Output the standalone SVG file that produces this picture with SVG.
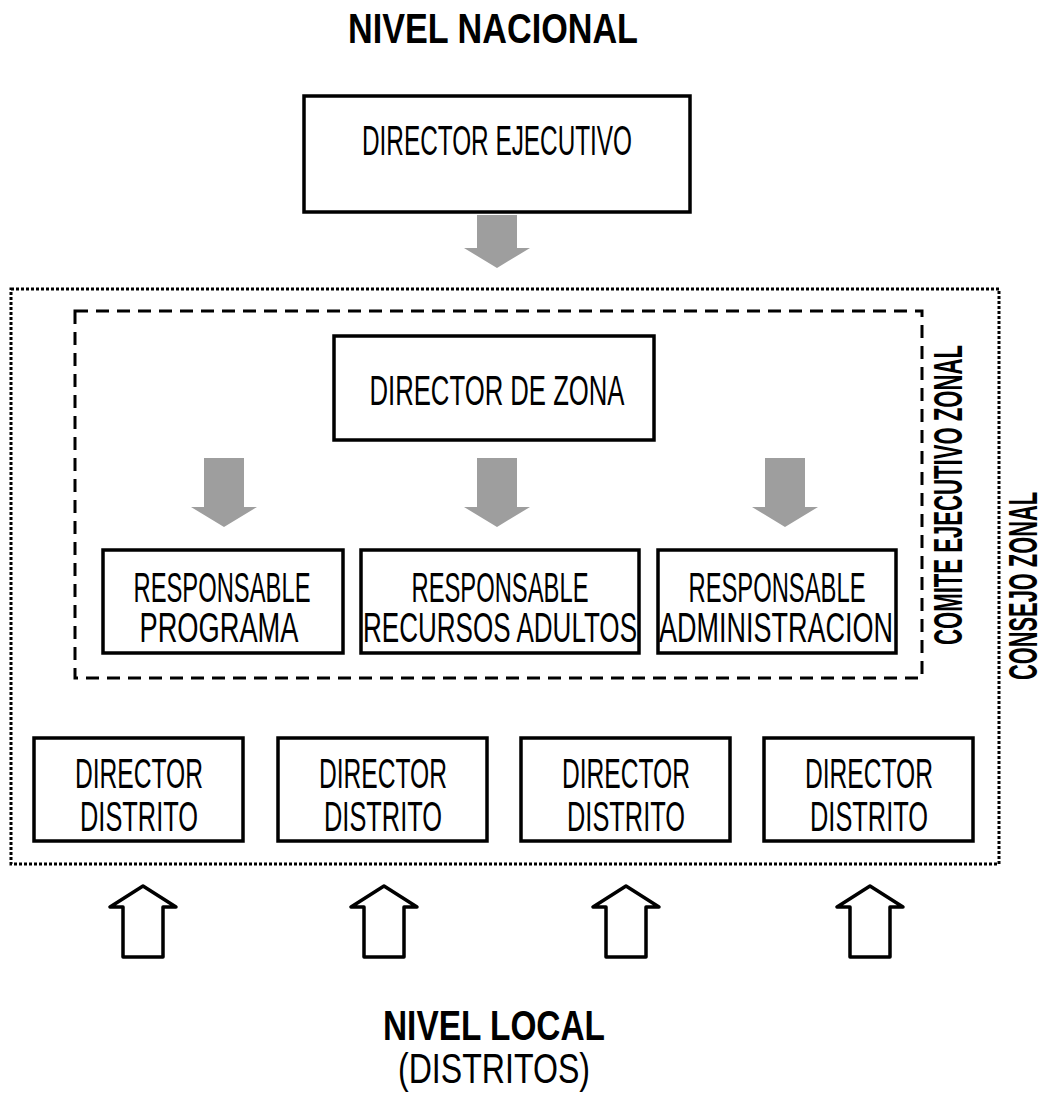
<svg xmlns="http://www.w3.org/2000/svg" width="1045" height="1101" viewBox="0 0 1045 1101">
<defs>
<style>
.box{fill:#fff;stroke:#000;stroke-width:3.5}
.t{font-family:"Liberation Sans",Arial,sans-serif;font-size:43px;fill:#000;text-anchor:middle}
.tb{font-family:"Liberation Sans",Arial,sans-serif;font-size:43px;font-weight:bold;fill:#000;text-anchor:middle}
.tv{font-family:"Liberation Sans",Arial,sans-serif;font-size:40px;font-weight:bold;fill:#000}
.ga{fill:#9e9e9e;stroke:none}
.ua{fill:#fff;stroke:#000;stroke-width:3.5;stroke-linejoin:round}
</style>
<path id="down" d="M-20,0 H20 V49 H33 L0,69 L-33,49 H-20 Z"/>
<path id="down-short" d="M-20,0 H20 V33 H33 L0,53 L-33,33 H-20 Z"/>
<path id="up" d="M-20,71 H20 V21 H33 L0,0 L-33,21 H-20 Z"/>
</defs>
<rect width="1045" height="1101" fill="#fff"/>

<g id="containers">
<rect x="11" y="289" width="988" height="575" fill="none" stroke="#000" stroke-width="3" stroke-dasharray="3 2"/>
<rect x="75" y="311" width="847" height="367" fill="none" stroke="#000" stroke-width="3" stroke-dasharray="13 8"/>
</g>

<g id="titles">
<text class="tb" x="493" y="43" textLength="290" lengthAdjust="spacingAndGlyphs">NIVEL NACIONAL</text>
<text class="tb" x="494" y="1040" textLength="222" lengthAdjust="spacingAndGlyphs">NIVEL LOCAL</text>
<text class="t" x="494" y="1083" textLength="192" lengthAdjust="spacingAndGlyphs">(DISTRITOS)</text>
</g>

<g id="director-ejecutivo">
<rect class="box" x="304" y="96" width="386" height="116"/>
<text class="t" x="497" y="155" textLength="270" lengthAdjust="spacingAndGlyphs">DIRECTOR EJECUTIVO</text>
</g>

<g id="director-zona">
<rect class="box" x="334" y="336" width="320" height="104"/>
<text class="t" x="497" y="405" textLength="255" lengthAdjust="spacingAndGlyphs">DIRECTOR DE ZONA</text>
</g>

<g id="resp-programa">
<rect class="box" x="103" y="550" width="240" height="103"/>
<text class="t" x="222" y="602" textLength="177" lengthAdjust="spacingAndGlyphs">RESPONSABLE</text>
<text class="t" x="219" y="642" textLength="159" lengthAdjust="spacingAndGlyphs">PROGRAMA</text>
</g>

<g id="resp-recursos">
<rect class="box" x="361" y="550" width="278" height="103"/>
<text class="t" x="500" y="602" textLength="177" lengthAdjust="spacingAndGlyphs">RESPONSABLE</text>
<text class="t" x="500" y="642" textLength="274" lengthAdjust="spacingAndGlyphs">RECURSOS ADULTOS</text>
</g>

<g id="resp-admin">
<rect class="box" x="658" y="550" width="238" height="103"/>
<text class="t" x="777" y="602" textLength="177" lengthAdjust="spacingAndGlyphs">RESPONSABLE</text>
<text class="t" x="776" y="642" textLength="234" lengthAdjust="spacingAndGlyphs">ADMINISTRACION</text>
</g>

<g id="distrito-1">
<rect class="box" x="34" y="738" width="209" height="103"/>
<text class="t" x="139" y="788" textLength="128" lengthAdjust="spacingAndGlyphs">DIRECTOR</text>
<text class="t" x="139" y="831" textLength="118" lengthAdjust="spacingAndGlyphs">DISTRITO</text>
</g>
<g id="distrito-2">
<rect class="box" x="278" y="738" width="209" height="103"/>
<text class="t" x="383" y="788" textLength="128" lengthAdjust="spacingAndGlyphs">DIRECTOR</text>
<text class="t" x="383" y="831" textLength="118" lengthAdjust="spacingAndGlyphs">DISTRITO</text>
</g>
<g id="distrito-3">
<rect class="box" x="521" y="738" width="209" height="103"/>
<text class="t" x="626" y="788" textLength="128" lengthAdjust="spacingAndGlyphs">DIRECTOR</text>
<text class="t" x="626" y="831" textLength="118" lengthAdjust="spacingAndGlyphs">DISTRITO</text>
</g>
<g id="distrito-4">
<rect class="box" x="764" y="738" width="209" height="103"/>
<text class="t" x="869" y="788" textLength="128" lengthAdjust="spacingAndGlyphs">DIRECTOR</text>
<text class="t" x="869" y="831" textLength="118" lengthAdjust="spacingAndGlyphs">DISTRITO</text>
</g>

<g id="labels-vertical">
<text class="tv" transform="translate(962,645) rotate(-90)" textLength="300" lengthAdjust="spacingAndGlyphs">COMITE EJECUTIVO ZONAL</text>
<text class="tv" transform="translate(1037,680) rotate(-90)" textLength="188" lengthAdjust="spacingAndGlyphs">CONSEJO ZONAL</text>
</g>

<g id="connectors">
<use href="#down-short" class="ga" x="497" y="215"/>
<use href="#down" class="ga" x="224" y="458"/>
<use href="#down" class="ga" x="497" y="458"/>
<use href="#down" class="ga" x="785" y="458"/>
<use href="#up" class="ua" x="143" y="886"/>
<use href="#up" class="ua" x="384" y="886"/>
<use href="#up" class="ua" x="626" y="886"/>
<use href="#up" class="ua" x="870" y="886"/>
</g>
</svg>
